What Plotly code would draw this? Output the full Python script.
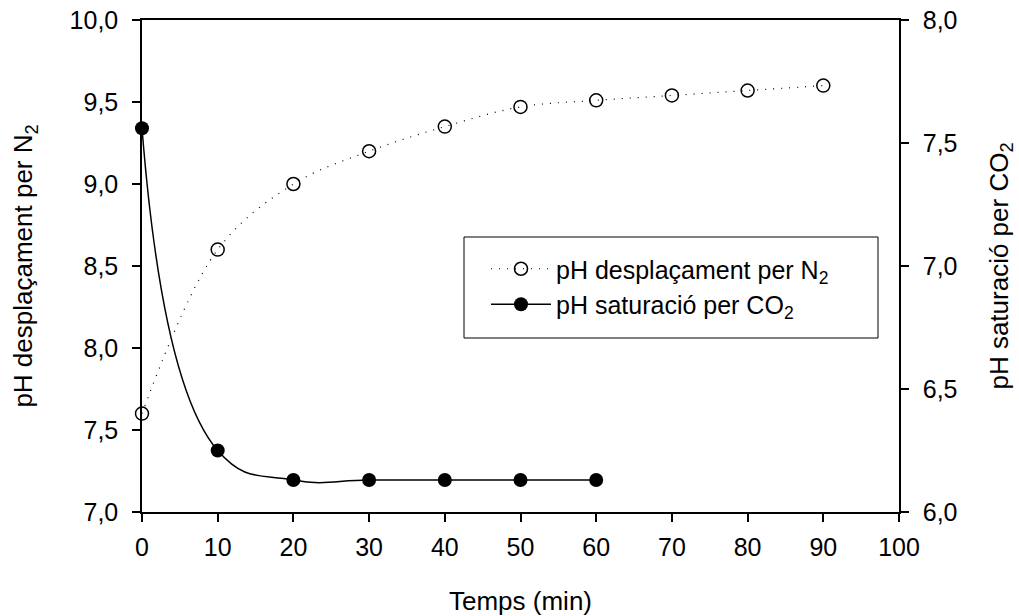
import plotly.graph_objects as go

time_n2 = [0, 10, 20, 30, 40, 50, 60, 70, 80, 90]
ph_n2 = [7.60, 8.60, 9.00, 9.20, 9.35, 9.47, 9.51, 9.54, 9.57, 9.60]

time_co2 = [0, 10, 20, 30, 40, 50, 60]
ph_co2 = [7.56, 6.25, 6.13, 6.13, 6.13, 6.13, 6.13]

x_ticks = list(range(0, 101, 10))
left_ticks = [7.0, 7.5, 8.0, 8.5, 9.0, 9.5, 10.0]
right_ticks = [6.0, 6.5, 7.0, 7.5, 8.0]

FONT = "Liberation Sans, Arial, sans-serif"
TITLE_SIZE = 26

fig = go.Figure()
fig.add_trace(go.Scatter(
    x=time_n2, y=ph_n2, mode="lines+markers",
    name="pH desplaçament per N<sub>2</sub>",
    line=dict(color="black", width=1.2, dash="1px,7px", shape="spline", smoothing=1),
    marker=dict(symbol="circle-open", size=13, color="black", line=dict(width=1.5, color="black")),
    cliponaxis=False, yaxis="y",
))
fig.add_trace(go.Scatter(
    x=time_co2, y=ph_co2, mode="lines+markers",
    name="pH saturació per CO<sub>2</sub>",
    line=dict(color="black", width=1.5, shape="spline", smoothing=1.3),
    marker=dict(symbol="circle", size=14, color="black"),
    cliponaxis=False, yaxis="y2",
))

axis_common = dict(
    showgrid=False, zeroline=False, showline=True, linecolor="black", linewidth=1.5,
    ticks="outside", ticklen=8, tickwidth=1.5, tickcolor="black", automargin=False,
    tickfont=dict(family=FONT, size=25, color="black"),
)

fig.update_layout(
    width=1019, height=616,
    margin=dict(l=142, r=120, t=20, b=104),
    paper_bgcolor="white", plot_bgcolor="white",
    separators=",.",
    showlegend=True,
    font=dict(family=FONT, color="black"),
    xaxis=dict(
        range=[0, 100], tickvals=x_ticks, mirror=True, ticklabelstandoff=4,
        title=dict(text="Temps (min)", font=dict(family=FONT, size=TITLE_SIZE, color="black"), standoff=32),
        **axis_common,
    ),
    yaxis=dict(
        range=[7.0, 10.0], tickvals=left_ticks, tickformat=".1f", ticklabelstandoff=9,
        title=dict(text="pH desplaçament per N<sub>2</sub>", font=dict(family=FONT, size=TITLE_SIZE, color="black"), standoff=29),
        **axis_common,
    ),
    yaxis2=dict(
        range=[6.0, 8.0], tickvals=right_ticks, tickformat=".1f", overlaying="y", side="right",
        ticklabelstandoff=9,
        title=dict(text="pH saturació per CO<sub>2</sub>", font=dict(family=FONT, size=TITLE_SIZE, color="black"), standoff=33),
        **axis_common,
    ),
    legend=dict(
        x=(486 - 142) / (899 - 142), y=(512 - 246) / (512 - 20), xanchor="left", yanchor="top",
        bgcolor="rgba(0,0,0,0)", borderwidth=0,
        font=dict(family=FONT, size=25, color="black"),
        itemwidth=60,
    ),
    shapes=[dict(
        type="rect", xref="paper", yref="paper",
        x0=(464 - 142) / (899 - 142), x1=(878 - 142) / (899 - 142),
        y0=(512 - 338) / (512 - 20), y1=(512 - 237) / (512 - 20),
        line=dict(color="black", width=1), fillcolor="rgba(0,0,0,0)",
    )],
)

fig.write_html("out.html")
